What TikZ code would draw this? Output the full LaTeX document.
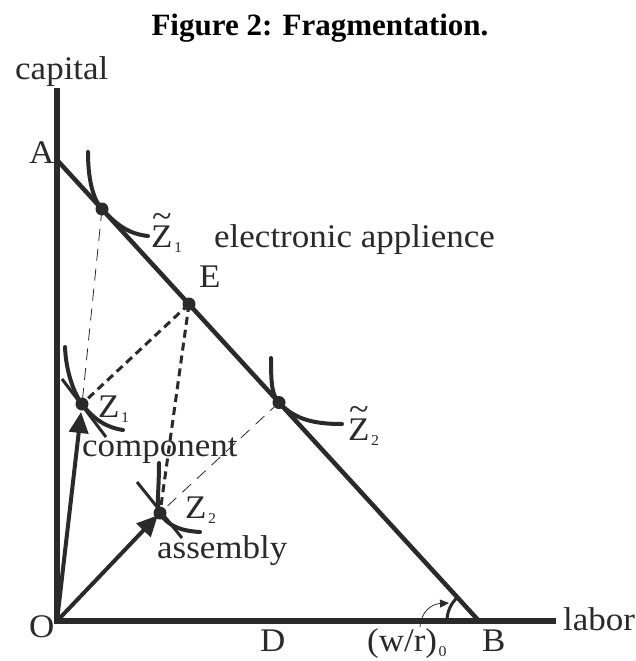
\documentclass[tikz,border=0pt]{standalone}
\usepackage{fontspec}
\setmainfont{Liberation Serif}[FakeStretch=1.06]
\newfontfamily\titlefont{Liberation Serif}
\usetikzlibrary{arrows.meta}
\definecolor{ink}{HTML}{2A2A2A}
\newcommand\tilZ{\ooalign{Z\cr\hidewidth\raisebox{20pt}{\fontsize{34}{34}\selectfont\char"007E}\hidewidth\cr}}
\newcommand\lsub[1]{\kern1.5pt\raisebox{-5pt}{\fontsize{15}{15}\selectfont #1}}
\tikzset{
 axisline/.style={line width=6pt, draw=ink},
 budget/.style={line width=4.5pt, draw=ink},
 iso/.style={line width=4pt, draw=ink, line cap=round},
 cross/.style={line width=3pt, draw=ink},
 dotnode/.style={circle, fill=ink, inner sep=0pt, minimum size=13pt},
 lbl/.style={inner sep=0pt, text=ink, anchor=base west, font=\fontsize{33}{33}\selectfont},
 thindash/.style={draw=ink, line width=0.8pt, dash pattern=on 12pt off 8pt},
 thickdash/.style={draw=ink, line width=3pt, dash pattern=on 8pt off 5pt},
 vec/.style={draw=ink, line width=4pt, -{Triangle[length=21pt,width=19pt]}},
}
\begin{document}
\begin{tikzpicture}[x=1pt,y=-1pt]
\useasboundingbox (0,0) rectangle (636,661);
\fill[white] (0,0) rectangle (636,661);
% points
\coordinate (O) at (57,621);
\coordinate (Ytop) at (57,88);
\coordinate (Xend) at (556,621);
\coordinate (Apt) at (57,160);
\coordinate (Bpt) at (479,621);
\coordinate (t1) at (102,209);
\coordinate (E) at (189,304);
\coordinate (t2) at (279,402.5);
\coordinate (z1) at (82,404);
\coordinate (z2) at (160,513);
\coordinate (wr) at (420,627);
\coordinate (arcpt) at (449,603);
% dashed
\draw[thindash] (t1) -- (z1);
\draw[thindash] (t2) -- (z2);
\draw[thickdash] (E) -- (z1);
\draw[thickdash] (E) -- (z2);
% axes and budget line
\draw[axisline] (Ytop) -- (O) -- (Xend);
\draw[budget] (Apt) -- (Bpt);
% isoquants
\draw[iso] (88,152) .. controls (88,185) and (95,201.4) .. (t1) .. controls (118,226.5) and (130,234) .. (148,236);
\draw[iso] (271,358) .. controls (271,385) and (272,394.8) .. (t2) .. controls (295,420) and (315,424) .. (342,424);
\draw[iso] (65,347) .. controls (66,372) and (74,393.5) .. (z1) .. controls (94,420) and (108,428) .. (123,430);
\draw[iso] (159,463) .. controls (159,493) and (156,505) .. (z2) .. controls (168,527) and (183,531) .. (200,532);
\draw[cross] (62,379) -- (106,437);
\draw[cross] (137,482) -- (182,538);
% vectors
\draw[vec, shorten >=8pt] (O) -- (z1);
\draw[vec, shorten >=3pt] (O) -- (z2);
% dots
\node[dotnode] (d1) at (t1) {};
\node[dotnode] (dE) at (E) {};
\node[dotnode] (d2) at (t2) {};
\node[dotnode] (dz1) at (z1) {};
\node[dotnode] (dz2) at (z2) {};
% angle
\draw[ink, line width=3pt] (Bpt) ++(180:32) arc[start angle=180, end angle=228, radius=32];
\draw[ink, line width=0.8pt, -{Triangle[length=9pt,width=8pt]}] (wr) .. controls (421,611) and (432,604) .. (arcpt);
% labels
\node[inner sep=0pt, anchor=base, font=\titlefont\fontsize{31}{31}\selectfont\bfseries] (title) at (320,36) {Figure 2: Fragmentation.};
\node[lbl] (lcap) at (15,79) {capital};
\node[lbl] (lA) at (29,163) {A};
\node[lbl] (lt1) at (151,247) {\tilZ\lsub{1}};
\node[lbl] (lea) at (214,247) {electronic applience};
\node[lbl] (lE) at (199,287) {E};
\node[lbl] (lz1) at (98,417) {Z\lsub{1}};
\node[lbl] (lcomp) at (82,456) {component};
\node[lbl] (lt2) at (348,440) {\tilZ\lsub{2}};
\node[lbl] (lz2) at (185,518) {Z\lsub{2}};
\node[lbl] (lass) at (157,558) {assembly};
\node[lbl] (lO) at (29,637) {O};
\node[lbl] (lD) at (260,651) {D};
\node[lbl] (lwr) at (367,651) {(w/r)\lsub{0}};
\node[lbl] (lB) at (482,651) {B};
\node[lbl] (llab) at (563,630) {labor};
\end{tikzpicture}
\end{document}
